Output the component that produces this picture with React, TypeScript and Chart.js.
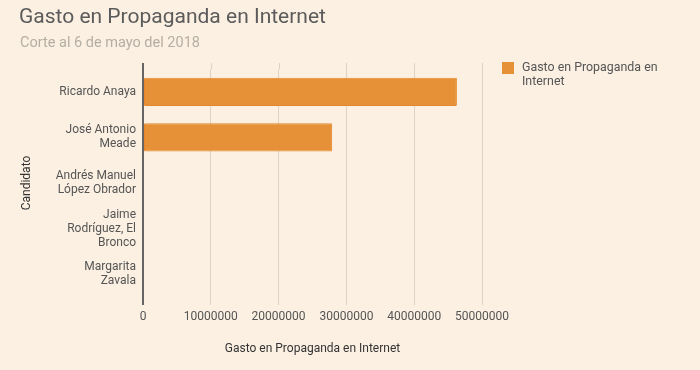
import React, { useEffect, useRef } from "react";
import { Chart, registerables } from "chart.js";
Chart.register(...registerables);

const categories: string[][] = [
  ["Ricardo Anaya"],
  ["José Antonio", "Meade"],
  ["Andrés Manuel", "López Obrador"],
  ["Jaime", "Rodríguez, El", "Bronco"],
  ["Margarita", "Zavala"],
];
const values = [46300000, 27900000, 0, 0, 0];
const xTickValues = [0, 10000000, 20000000, 30000000, 40000000, 50000000];
const seriesName = "Gasto en Propaganda en Internet";
const chartTitle = "Gasto en Propaganda en Internet";
const chartSubtitle = "Corte al 6 de mayo del 2018";
const xTitle = "Gasto en Propaganda en Internet";
const yTitle = "Candidato";

const BG = "#fbf0e2";
const GRID = "#dcd3c4";
const AXIS = "#666666";
const BAR = "#e69138";
const FONT = "Roboto, 'Noto Sans', sans-serif";

const gridExtend = {
  id: "gridExtend",
  afterDatasetsDraw(chart: any) {
    const { ctx, chartArea, scales } = chart;
    const x = scales.x;
    const y = scales.y;
    ctx.save();
    x.ticks.forEach((t: any) => {
      const zero = t.value === 0;
      const px = Math.round(x.getPixelForValue(t.value)) + (zero ? 0 : 0.5);
      ctx.strokeStyle = zero ? AXIS : GRID;
      ctx.lineWidth = zero ? 2 : 1;
      ctx.beginPath();
      ctx.moveTo(px, chartArea.top - 6);
      ctx.lineTo(px, zero ? chartArea.bottom + 8 : chartArea.top);
      ctx.stroke();
    });
    // right-aligned multi-line category labels
    ctx.fillStyle = "#555555";
    ctx.font = `12px ${FONT}`;
    ctx.textAlign = "right";
    ctx.textBaseline = "middle";
    const lh = 14;
    categories.forEach((lines, i) => {
      const cy = y.getPixelForValue(i);
      const start = cy - ((lines.length - 1) * lh) / 2;
      lines.forEach((ln, j) => {
        ctx.fillText(ln, chartArea.left - 7, start + j * lh);
      });
    });
    ctx.restore();
  },
};

export default function App() {
  const ref = useRef<HTMLCanvasElement>(null);
  useEffect(() => {
    if (!ref.current) return;
    const chart = new Chart(ref.current, {
      type: "bar",
      data: {
        labels: categories.map((c) => c.join(" ")),
        datasets: [
          {
            label: seriesName,
            data: values,
            backgroundColor: BAR,
            borderColor: "#e5882c",
            borderWidth: 1,
            borderRadius: 1,
            borderSkipped: false,
            barPercentage: 0.62,
            categoryPercentage: 1,
          },
        ],
      },
      plugins: [gridExtend],
      options: {
        indexAxis: "y",
        responsive: false,
        animation: false,
        layout: { padding: { left: 0, right: 218, top: 69, bottom: 0 } },
        plugins: {
          legend: { display: false },
          tooltip: { enabled: false },
          title: { display: false },
        },
        scales: {
          x: {
            type: "linear",
            min: 0,
            max: 50000000,
            afterBuildTicks: (s: any) => {
              s.ticks = xTickValues.map((v) => ({ value: v }));
            },
            afterFit: (s: any) => {
              s.height = 73;
            },
            border: { display: false },
            grid: {
              color: (c: any) => (c.tick && c.tick.value === 0 ? AXIS : GRID),
              lineWidth: (c: any) => (c.tick && c.tick.value === 0 ? 2 : 1),
              drawTicks: true,
              tickLength: 8,
            },
            ticks: {
              color: "#555555",
              font: { family: FONT, size: 12 },
              padding: 5,
              maxRotation: 0,
              autoSkip: false,
              callback: (v: any) => String(v),
            },
            title: {
              display: true,
              text: xTitle,
              color: "#333333",
              font: { family: FONT, size: 12 },
              padding: { top: 0, bottom: 14 },
            },
          },
          y: {
            afterFit: (s: any) => {
              s.width = 143;
            },
            border: { display: false },
            grid: { display: false, drawTicks: false },
            ticks: { display: false },
            title: {
              display: true,
              text: yTitle,
              color: "#333333",
              font: { family: FONT, size: 12 },
              padding: { top: 20, bottom: 0 },
            },
          },
        },
      },
    });
    return () => chart.destroy();
  }, []);

  return (
    <div
      style={{
        position: "absolute",
        left: 0,
        top: 0,
        width: 700,
        height: 370,
        background: BG,
        fontFamily: FONT,
        overflow: "hidden",
      }}
    >
      <canvas ref={ref} width={700} height={370} style={{ position: "absolute", left: 0, top: 0 }} />
      <div
        style={{
          position: "absolute",
          left: 19,
          top: 4,
          fontSize: 21,
          lineHeight: "25px",
          color: "#5b5b5b",
          whiteSpace: "nowrap",
        }}
      >
        {chartTitle}
      </div>
      <div
        style={{
          position: "absolute",
          left: 20,
          top: 34,
          fontSize: 14.5,
          lineHeight: "18px",
          color: "#b5aea4",
          whiteSpace: "nowrap",
        }}
      >
        {chartSubtitle}
      </div>
      <div style={{ position: "absolute", left: 502, top: 62, width: 12, height: 12, background: BAR }} />
      <div
        style={{
          position: "absolute",
          left: 522,
          top: 60,
          width: 160,
          fontSize: 12.4,
          lineHeight: "14px",
          color: "#555555",
        }}
      >
        {seriesName}
      </div>
    </div>
  );
}
